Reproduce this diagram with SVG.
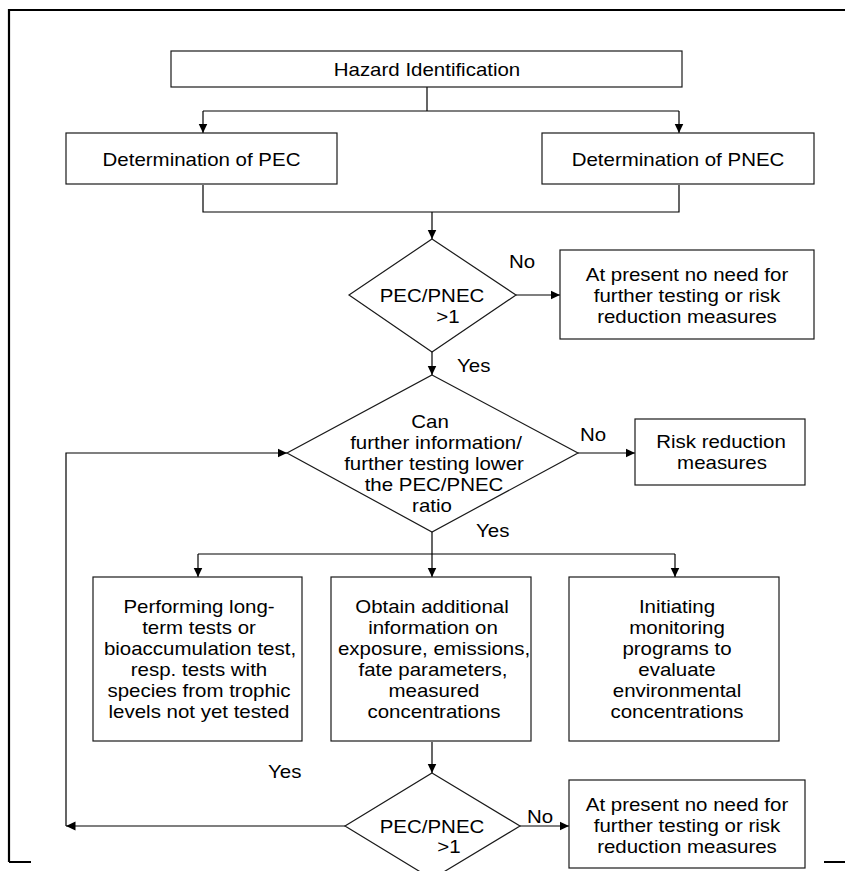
<svg xmlns="http://www.w3.org/2000/svg" width="845" height="871" viewBox="0 0 845 871">
<style>
  .box { fill: #ffffff; stroke: #1a1a1a; stroke-width: 1.2; }
  .con { fill: none; stroke: #000000; stroke-width: 1.2; }
  .arr { marker-end: url(#ah); }
  .frame { fill: none; stroke: #000000; stroke-width: 2.2; }
  text { font-family: "Liberation Sans", Arial, sans-serif; font-size: 17.5px; fill: #000000; }
  .c { text-anchor: middle; }
</style>
<defs>
  <marker id="ah" markerUnits="userSpaceOnUse" markerWidth="10" markerHeight="10" refX="9.5" refY="5" orient="auto">
    <path d="M0,0.5 L9.5,5 L0,9.5 Z" fill="#000000"/>
  </marker>
</defs>
<rect width="845" height="871" fill="#ffffff"/>
<path class="frame" d="M9,862 V10 H845 M9,862 H31 M824,862 H845"/>

<g id="connectors">
  <path class="con" d="M427,87 V111 M203,111 H679"/>
  <path class="con arr" d="M203,111 V133"/>
  <path class="con arr" d="M679,111 V133"/>
  <path class="con" d="M203,185 V212 H679 V185"/>
  <path class="con arr" d="M432,212 V239"/>
  <path class="con arr" d="M516,295 H560"/>
  <path class="con arr" d="M432,352 V375"/>
  <path class="con arr" d="M578,453 H635"/>
  <path class="con" d="M432,532 V554 M198,554 H675"/>
  <path class="con arr" d="M198,554 V577"/>
  <path class="con arr" d="M432,554 V577"/>
  <path class="con arr" d="M675,554 V577"/>
  <path class="con arr" d="M432,742 V773"/>
  <path class="con arr" d="M520,826 H569"/>
  <path class="con arr" d="M345,826 H66"/>
  <path class="con arr" d="M66,826 V453 H287"/>
  <text transform="translate(509 268) scale(1.17 1)">No</text>
  <text transform="translate(457 372) scale(1.17 1)">Yes</text>
  <text transform="translate(580 441) scale(1.17 1)">No</text>
  <text transform="translate(476 537) scale(1.17 1)">Yes</text>
  <text transform="translate(268 778) scale(1.17 1)">Yes</text>
  <text transform="translate(527 823) scale(1.17 1)">No</text>
</g>

<g id="hazard">
  <rect class="box" x="171" y="51" width="511" height="36"/>
  <text class="c" transform="translate(427 76) scale(1.17 1)">Hazard Identification</text>
</g>
<g id="pec">
  <rect class="box" x="66" y="133" width="271" height="51"/>
  <text class="c" transform="translate(201.5 166) scale(1.17 1)">Determination of PEC</text>
</g>
<g id="pnec">
  <rect class="box" x="542" y="133" width="272" height="51"/>
  <text class="c" transform="translate(678 166) scale(1.17 1)">Determination of PNEC</text>
</g>
<g id="decision1">
  <polygon class="box" points="432,239 516,295 432,352 349,295"/>
  <text class="c" transform="translate(432 302) scale(1.17 1)">PEC/PNEC</text>
  <text class="c" transform="translate(448 323) scale(1.17 1)">&gt;1</text>
</g>
<g id="noneed1">
  <rect class="box" x="560" y="250" width="254" height="89"/>
  <text class="c" transform="translate(687 281) scale(1.17 1)">At present no need for</text>
  <text class="c" transform="translate(687 302) scale(1.17 1)">further testing or risk</text>
  <text class="c" transform="translate(687 323) scale(1.17 1)">reduction measures</text>
</g>
<g id="decision2">
  <polygon class="box" points="432,375 578,453 432,532 287,453"/>
  <text class="c" transform="translate(430 428) scale(1.17 1)">Can</text>
  <text class="c" transform="translate(436 449) scale(1.17 1)">further information/</text>
  <text class="c" transform="translate(434 470) scale(1.17 1)">further testing lower</text>
  <text class="c" transform="translate(434 491) scale(1.17 1)">the PEC/PNEC</text>
  <text class="c" transform="translate(432 512) scale(1.17 1)">ratio</text>
</g>
<g id="riskreduction">
  <rect class="box" x="635" y="419" width="170" height="66"/>
  <text class="c" transform="translate(721 448) scale(1.17 1)">Risk reduction</text>
  <text class="c" transform="translate(722 469) scale(1.17 1)">measures</text>
</g>
<g id="longterm">
  <rect class="box" x="93" y="577" width="209" height="164"/>
  <text class="c" transform="translate(199 613) scale(1.17 1)">Performing long-</text>
  <text class="c" transform="translate(199 634) scale(1.17 1)">term tests or</text>
  <text class="c" transform="translate(200 655) scale(1.17 1)">bioaccumulation test,</text>
  <text class="c" transform="translate(199 676) scale(1.17 1)">resp. tests with</text>
  <text class="c" transform="translate(199 697) scale(1.17 1)">species from trophic</text>
  <text class="c" transform="translate(199 718) scale(1.17 1)">levels not yet tested</text>
</g>
<g id="additional">
  <rect class="box" x="331" y="577" width="200" height="164"/>
  <text class="c" transform="translate(432 613) scale(1.17 1)">Obtain additional</text>
  <text class="c" transform="translate(433 634) scale(1.17 1)">information on</text>
  <text class="c" transform="translate(434 655) scale(1.17 1)">exposure, emissions,</text>
  <text class="c" transform="translate(433 676) scale(1.17 1)">fate parameters,</text>
  <text class="c" transform="translate(434 697) scale(1.17 1)">measured</text>
  <text class="c" transform="translate(434 718) scale(1.17 1)">concentrations</text>
</g>
<g id="monitoring">
  <rect class="box" x="569" y="577" width="210" height="164"/>
  <text class="c" transform="translate(677 613) scale(1.17 1)">Initiating</text>
  <text class="c" transform="translate(677 634) scale(1.17 1)">monitoring</text>
  <text class="c" transform="translate(677 655) scale(1.17 1)">programs to</text>
  <text class="c" transform="translate(677 676) scale(1.17 1)">evaluate</text>
  <text class="c" transform="translate(677 697) scale(1.17 1)">environmental</text>
  <text class="c" transform="translate(677 718) scale(1.17 1)">concentrations</text>
</g>
<g id="decision3">
  <polygon class="box" points="432,773 520,826 432,879 345,826"/>
  <text class="c" transform="translate(432 833) scale(1.17 1)">PEC/PNEC</text>
  <text class="c" transform="translate(449 853) scale(1.17 1)">&gt;1</text>
</g>
<g id="noneed2">
  <rect class="box" x="569" y="780" width="236" height="88"/>
  <text class="c" transform="translate(687 811) scale(1.17 1)">At present no need for</text>
  <text class="c" transform="translate(687 832) scale(1.17 1)">further testing or risk</text>
  <text class="c" transform="translate(687 853) scale(1.17 1)">reduction measures</text>
</g>
</svg>
